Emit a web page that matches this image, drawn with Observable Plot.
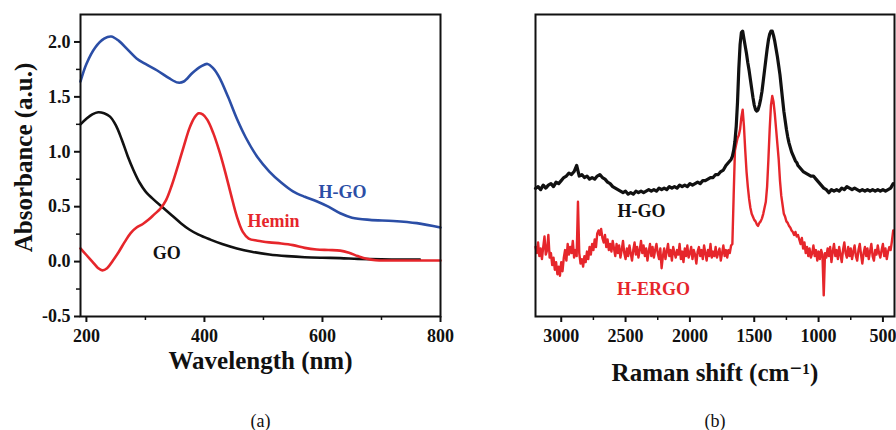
<!DOCTYPE html>
<html>
<head>
<meta charset="utf-8">
<script src="https://cdn.jsdelivr.net/npm/d3@7"></script>
<script src="https://cdn.jsdelivr.net/npm/@observablehq/plot@0.6"></script>
<style>
  html, body { margin: 0; padding: 0; background: #fff; }
  #wrap { position: relative; width: 896px; height: 430px; overflow: hidden; }
  #wrap svg { position: absolute; top: 0; }
</style>
</head>
<body>
<div id="wrap"></div>
<script>
// ---------- Panel (a): UV-vis absorbance ----------
const goUV = [[190,1.25],[200,1.30],[210,1.34],[220,1.36],[230,1.35],[240,1.32],[250,1.24],[260,1.11],[270,0.96],[280,0.83],[290,0.72],[300,0.64],[315,0.56],[330,0.49],[345,0.42],[360,0.35],[375,0.29],[390,0.245],[410,0.20],[430,0.16],[455,0.12],[480,0.09],[510,0.065],[540,0.05],[570,0.04],[600,0.035],[630,0.032],[660,0.025],[700,0.02],[730,0.018],[765,0.018]];
const heminUV = [[190,0.12],[200,0.06],[210,0.0],[220,-0.06],[227,-0.08],[235,-0.06],[245,0.01],[255,0.09],[265,0.18],[275,0.26],[285,0.31],[295,0.34],[305,0.38],[315,0.43],[325,0.48],[335,0.56],[345,0.70],[355,0.87],[365,1.05],[375,1.22],[383,1.31],[390,1.35],[397,1.34],[405,1.29],[415,1.17],[425,1.01],[435,0.82],[445,0.61],[455,0.41],[465,0.27],[475,0.21],[490,0.19],[510,0.175],[530,0.165],[550,0.15],[570,0.125],[590,0.11],[610,0.105],[630,0.10],[645,0.08],[660,0.05],[675,0.025],[690,0.012],[720,0.01],[760,0.01],[800,0.01]];
const hgoUV = [[190,1.64],[200,1.80],[215,1.95],[230,2.03],[242,2.05],[255,2.01],[270,1.93],[285,1.85],[300,1.80],[320,1.74],[340,1.67],[355,1.63],[365,1.64],[380,1.72],[395,1.78],[405,1.80],[415,1.76],[425,1.68],[440,1.50],[455,1.30],[470,1.13],[490,0.95],[510,0.82],[530,0.72],[550,0.64],[570,0.59],[590,0.55],[610,0.50],[630,0.44],[650,0.40],[680,0.38],[720,0.37],[760,0.35],[800,0.31]];
const uvMajorX = [200, 400, 600, 800];
const uvMinorX = [300, 500, 700];
const uvMajorY = [-0.5, 0, 0.5, 1.0, 1.5, 2.0];
const uvMinorY = [-0.25, 0.25, 0.75, 1.25, 1.75];
const uvLabels = [
  {text: "H-GO", x: 634, y: 0.636, color: "#2b4ea6"},
  {text: "Hemin", x: 517, y: 0.364, color: "#e6262b"},
  {text: "GO", x: 336, y: 0.074, color: "#111111"}
];

// ---------- Panel (b): Raman ----------
const hgoShift = [3200,3180,3160,3140,3120,3100,3080,3060,3040,3020,3000,2980,2960,2940,2920,2900,2880,2860,2840,2820,2800,2780,2760,2740,2720,2700,2680,2660,2640,2620,2600,2580,2560,2540,2520,2500,2480,2460,2440,2420,2400,2380,2360,2340,2320,2300,2280,2260,2240,2220,2200,2180,2160,2140,2120,2100,2080,2060,2040,2020,2000,1980,1960,1940,1920,1900,1880,1860,1840,1820,1800,1780,1760,1740,1720,
1710,1700,1690,1680,1670,1660,1650,1640,1630,1620,1610,1600,1590,1580,1570,1560,1550,1540,1530,1520,1510,1500,1490,1480,1470,1460,1450,1440,1430,1420,1410,1400,1390,1380,1370,1360,1350,1340,1330,1320,1310,1300,1290,1280,1270,1260,1250,1240,1230,1220,1210,1200,1190,1180,1170,1160,1150,
1140,1120,1100,1080,1060,1040,1020,1000,980,960,940,920,900,880,860,840,820,800,780,760,740,720,700,680,660,640,620,600,580,560,540,520,500,480,460,440,420];
const hgoRaman = [42.4,43,42,43.5,42.5,43.5,44,43,44.5,44,45,46,46.5,47.5,47,48,50,46.5,47,46,46.5,45.5,46,45.5,46.5,47,46,45.5,44.5,44,43,42.5,42,41.5,41,41.5,40.5,41,40.5,41.5,41,41.5,41,41.5,42,41.5,42,41.5,42.5,42,42.5,42,43,42.5,43,42.5,43.5,43,43.5,43,44,43.5,44,44.5,44,45,45,45.5,46,46,47,47,48,48.5,50,
50.5,51,51.5,52,53,55,58,63,71,82,90,94,94.5,92,89.5,87,84,81.5,78.5,75.5,72.5,70,68.5,68,68.5,70,72,74.5,78,81.5,85,88.5,91.5,93.5,94.5,94.5,93,91,88.5,86,83,80,76,72,68,65,62,59.5,57.5,56,54.5,53.5,52.5,51.5,51,50,49.5,
49,48,47.5,47,46.5,46.5,45.5,44.5,43.5,42.5,42,41,42,41.5,42,41.5,42.5,42,43,42.5,42,42.5,42,41.5,42,41.5,42,41.5,42,41.5,42,41.5,42,41.5,42,42.5,44];

const hergoShift = [
3200,3190,3180,3170,3160,3150,3140,3130,3120,3110,
3100,3090,3080,3070,3060,3050,3040,3030,3020,3010,
3000,2990,2980,2970,2960,2950,2940,2930,2920,2910,
2900,2890,2880,2870,2860,2850,2840,2830,2820,2810,
2800,2790,2780,2770,2760,2750,2740,2730,2720,2710,
2700,2690,2680,2670,2660,2650,2640,2630,2620,2610,
2600,2590,2580,2570,2560,2550,2540,2530,2520,2510,
2500,2490,2480,2470,2460,2450,2440,2430,2420,2410,
2400,2390,2380,2370,2360,2350,2340,2330,2320,2310,
2300,2290,2280,2270,2260,2250,2240,2230,2220,2210,
2200,2190,2180,2170,2160,2150,2140,2130,2120,2110,
2100,2090,2080,2070,2060,2050,2040,2030,2020,2010,
2000,1990,1980,1970,1960,1950,1940,1930,1920,1910,
1900,1890,1880,1870,1860,1850,1840,1830,1820,1810,
1800,1790,1780,1770,1760,1750,1740,1730,1720,1710,
1700,1690,1680,
1670,1660,1650,1640,1630,1620,1610,1600,1590,1580,
1570,1560,1550,1540,1530,1520,1510,1500,1490,1480,
1470,1460,1450,1440,1430,1420,
1410,1400,1390,1380,1370,1360,1350,1340,1330,1320,
1310,1300,1290,1280,1270,1260,1250,1240,1230,1220,
1210,1200,1190,1180,1170,1160,1150,
1140,1130,1120,1110,1100,1090,1080,1070,1060,1050,
1040,1030,1020,1010,1000,990,980,970,960,950,
940,930,920,910,900,890,880,870,860,850,
840,830,820,810,800,790,780,770,760,750,
740,730,720,710,700,690,680,670,660,650,
640,630,620,610,600,590,580,570,560,550,
540,530,520,510,500,490,480,470,460,450,
440,430,420];
const hergoRaman = [
23,21,24.5,20,22.5,19,23,26.5,20.5,22,
27,19.5,21,17,19.5,15.5,18,14,16.5,13.5,
18,15,19.5,22,18.5,24,20.5,23,21,25,
19.5,22,20,38,21,17.5,19,16.5,20,18,
21.5,19,23,20.5,24,22,25.5,23,27.5,28.5,
27,29,26,24.5,27,23,25.5,22,24,21.5,
25,22.5,20,24,21,23.5,19.5,22,25,21,
19,22.5,20,23.5,21,18.5,22,24.5,20.5,23,
19.5,22,25,21,23.5,20,22.5,18.5,21.5,24,
20,23,19.5,22,24,21,19,22.5,16,20,
22.5,19,21.5,24,20,22,18.5,23,21,19.5,
22,20.5,24,19,21.5,18,22.5,20,23.5,19.5,
21,23,19,22,20.5,17.5,21.5,23,20,22,
19,23.5,21,18.5,22,20,24,19.5,21.5,20,
23,19.5,21,22.5,18.5,21,23.5,20,22,19.5,
22,21,23.5,
24,40,55,57,59,60,62,66,68.5,63,
55,48,43,39,36,34,33,32,31.5,30.5,
30,31,31.5,32.5,34,36,
38,43,52,62,70,73,71,67,62,57,
52,45,40,37,34,33,31.5,31,30,29.5,
28.5,28,27,28,26.5,27,25.5,
24,26,22.5,24.5,21,23,20,22.5,19.5,21,
23.5,20,22,18.5,21.5,19,22,20.5,7,21,
19.5,22.5,20,23,18,21.5,24,20,22,19,
23,20.5,18,22,24.5,21,19.5,23,20,22.5,
19,21.5,23.5,20,18.5,22,24,20.5,17.5,21,
23,20,22.5,19,21.5,24,20,18.5,22,20.5,
23.5,21,19.5,22,24,20,22.5,19,21.5,23,
22,25,28.5];
const ramanMajorX = [3000, 2500, 2000, 1500, 1000, 500];
const ramanMinorX = [2750, 2250, 1750, 1250, 750];
const ramanLabels = [
  {text: "H-GO", x: 2376, y: 34.8, color: "#111111"},
  {text: "H-ERGO", x: 2283, y: 8.9, color: "#e6262b"}
];

const SERIF = "'Liberation Serif', 'Times New Roman', 'DejaVu Serif', serif";
const BLUE = "#2b4ea6", RED = "#e6262b", BLACK = "#111111";

const toPts = (arr, name) => arr.map(([x, y]) => ({x, y, name}));
const uvData = [...toPts(goUV, "GO"), ...toPts(heminUV, "Hemin"), ...toPts(hgoUV, "H-GO")];

const plotA = Plot.plot({
  width: 450, height: 430,
  marginLeft: 80, marginRight: 10, marginTop: 14, marginBottom: 114,
  x: {domain: [190, 800]},
  y: {domain: [-0.5, 2.25]},
  style: {fontFamily: SERIF, background: "transparent", overflow: "visible", color: "#111"},
  marks: [
    Plot.axisY({ticks: uvMajorY, tickSize: 6, tickPadding: 4, strokeWidth: 2, tickFormat: d => d.toFixed(1), fontSize: 18, fontWeight: "bold", label: null}),
    Plot.axisY({ticks: uvMinorY, tickSize: 4, strokeWidth: 1.5, text: null, label: null}),
    Plot.axisX({ticks: uvMajorX, tickSize: 6, tickPadding: 7, strokeWidth: 2, tickFormat: d => String(d), fontSize: 18, fontWeight: "bold", label: null}),
    Plot.axisX({ticks: uvMinorX, tickSize: 4, strokeWidth: 1.5, text: null, label: null}),
    Plot.line(uvData, {x: "x", y: "y", z: "name", stroke: d => d.name === "GO" ? BLACK : d.name === "Hemin" ? RED : BLUE, strokeWidth: 2.6, curve: "catmull-rom"}),
    Plot.text(uvLabels, {x: "x", y: "y", text: "text", fill: d => d.color, fontSize: 18, fontWeight: "bold", style: "letter-spacing:0.5px"}),
    Plot.frame({stroke: "#111", strokeWidth: 2}),
    Plot.text(["Wavelength (nm)"], {frameAnchor: "bottom", textAnchor: "middle", dy: 52, fontSize: 25, fontWeight: "bold", fill: "#111", style: "letter-spacing:1.2px"}),
    Plot.text(["Absorbance (a.u.)"], {frameAnchor: "left", textAnchor: "middle", rotate: -90, dx: -57, dy: -8, fontSize: 25, fontWeight: "bold", fill: "#111", style: "letter-spacing:0.8px"}),
    Plot.text(["(a)"], {frameAnchor: "bottom", textAnchor: "middle", dy: 110, fontSize: 18, fill: "#111"})
  ]
});
plotA.style.left = "0px";

const hgoData = hgoShift.map((x, i) => ({x, y: hgoRaman[i]}));
const hergoData = hergoShift.map((x, i) => ({x, y: hergoRaman[i]}));

const plotB = Plot.plot({
  width: 456, height: 430,
  marginLeft: 95, marginRight: 2, marginTop: 14, marginBottom: 114,
  x: {domain: [3200, 410]},
  y: {domain: [0, 100], axis: null},
  style: {fontFamily: SERIF, background: "transparent", overflow: "visible", color: "#111"},
  marks: [
    Plot.axisX({ticks: ramanMajorX, tickSize: 6, tickPadding: 7, strokeWidth: 2, tickFormat: d => String(d), fontSize: 18, fontWeight: "bold", label: null}),
    Plot.axisX({ticks: ramanMinorX, tickSize: 4, strokeWidth: 1.5, text: null, label: null}),
    Plot.line(hergoData, {x: "x", y: "y", stroke: RED, strokeWidth: 2.4}),
    Plot.line(hgoData, {x: "x", y: "y", stroke: BLACK, strokeWidth: 3.2}),
    Plot.text(ramanLabels, {x: "x", y: "y", text: "text", fill: d => d.color, fontSize: 18, fontWeight: "bold", style: "letter-spacing:0.5px"}),
    Plot.frame({stroke: "#111", strokeWidth: 2}),
    Plot.text(["Raman shift (cm\u207B\u00B9)"], {frameAnchor: "bottom", textAnchor: "middle", dy: 64, fontSize: 25, fontWeight: "bold", fill: "#111", style: "letter-spacing:0.5px"}),
    Plot.text(["(b)"], {frameAnchor: "bottom", textAnchor: "middle", dy: 110, fontSize: 18, fill: "#111"})
  ]
});
plotB.style.left = "440px";

const wrap = document.getElementById("wrap");
wrap.appendChild(plotA);
wrap.appendChild(plotB);
</script>
</body>
</html>
